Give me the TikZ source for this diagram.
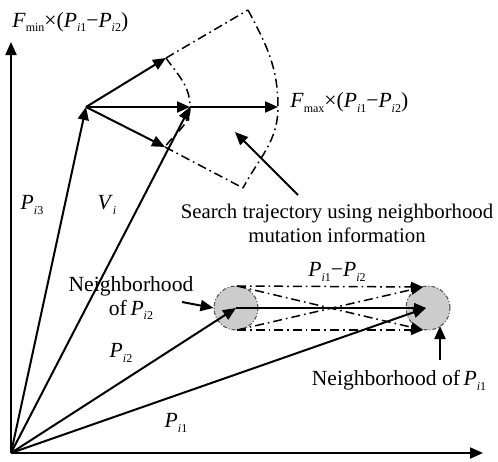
\documentclass[tikz,border=0pt]{standalone}
\usepackage{fontspec}
\setmainfont{Liberation Serif}
\usetikzlibrary{arrows.meta}
\newcommand\lsub[1]{\raisebox{-0.5ex}{\fontsize{6}{6}\selectfont #1}}
\newcommand\Pv[1]{\textit{P}\lsub{\textit{i}#1}}
\tikzset{
  x=0.5pt, y=-0.5pt,
  vec/.style={line width=1pt, -{Triangle[length=6.5pt,width=5.5pt]}},
  dd/.style={line width=0.75pt, dash pattern=on 4.5pt off 2pt on 0.8pt off 2pt},
  ddv/.style={dd, -{Triangle[length=6pt,width=5pt]}},
  hood/.style={circle, minimum size=22pt, inner sep=0pt, fill=black!20, draw=black!70, line width=0.5pt, dash pattern=on 2pt off 1pt on 0.5pt off 1pt},
  lbl/.style={inner sep=0pt, font=\fontsize{10.8}{13}\selectfont}
}
\begin{document}
\begin{tikzpicture}
\useasboundingbox (0,0) rectangle (498,461);
% points
\coordinate (O) at (11,453);
\coordinate (Ytip) at (11,42);
\coordinate (Xtip) at (483,453);
\coordinate (A) at (86,107);
\coordinate (U1) at (166,58);
\coordinate (M1) at (190,107);
\coordinate (D1) at (165,147);
\coordinate (U2) at (248,10);
\coordinate (M2) at (278,107);
\coordinate (D2) at (243,188);
% neighborhoods
\node[hood] (L) at (236,308) {};
\node[hood] (R) at (428,308) {};
\coordinate (Lt) at (237,286);
\coordinate (Lb) at (237,330);
\coordinate (Rt) at (423,287);
\coordinate (Rb) at (423,330);
\coordinate (Rc) at (426,308);
% axes
\draw[vec] (O) -- (Ytip);
\draw[vec] (O) -- (Xtip);
% dash-dot search region
\draw[dd] (U1) -- (U2);
\draw[dd] (D1) -- (D2);
\draw[dd] (U1) to[out=-55,in=90] (M1) to[out=-90,in=55] (D1);
\draw[dd] (U2) to[out=-62,in=90] (M2) to[out=-90,in=62] (D2);
% vectors from A
\draw[vec] (A) -- (U1);
\draw[vec] (A) -- (M1);
\draw[vec] (M1) -- (M2);
\draw[vec] (A) -- (D1);
% position vectors
\draw[vec] (O) -- (A);
\draw[vec] (O) -- (M1);
\draw[vec] (O) -- (L.center);
\draw[vec] (O) -- (Rc);
% difference vectors
\draw[ddv] (Lt) -- (Rt);
\draw[ddv] (Lb) -- (Rb);
\draw[ddv] (Lt) -- (Rb);
\draw[ddv] (Lb) -- (Rt);
\draw[line width=0.7pt, -{Triangle[length=6pt,width=5pt]}] (L.center) -- (Rc);
% pointer arrows
\coordinate (s0) at (298,195); \coordinate (s1) at (235,132);
\draw[vec] (s0) -- (s1);
\coordinate (n0) at (182,302);
\draw[vec] (n0) -- (L.west);
\coordinate (m0) at (440,360); \coordinate (m1) at (440,326);
\draw[vec] (m0) -- (m1);
% labels
\node[lbl, anchor=west] (fmin) at (12,22) {\textit{F}\lsub{min}×(\Pv{1}−\Pv{2})};
\node[lbl, anchor=west] (fmax) at (290,103) {\textit{F}\lsub{max}×(\Pv{1}−\Pv{2})};
\node[lbl] (lp3) at (32,205) {\Pv{3}};
\node[lbl] (lv) at (107,205) {\textit{V}\lsub{\textit{i}}};
\node[lbl, align=center, font=\fontsize{10.4}{13}\selectfont] (search) at (337,223) {Search trajectory using neighborhood\\[-1pt]mutation information};
\node[lbl, align=center] (n2) at (131,298) {Neighborhood\\[-1pt]of\,\Pv{2}};
\node[lbl] (diff) at (337,272) {\Pv{1}−\Pv{2}};
\node[lbl] (lp2) at (121,353) {\Pv{2}};
\node[lbl] (lp1) at (176,423) {\Pv{1}};
\node[lbl] (n1) at (399,380) {Neighborhood of\,\Pv{1}};
\end{tikzpicture}
\end{document}
